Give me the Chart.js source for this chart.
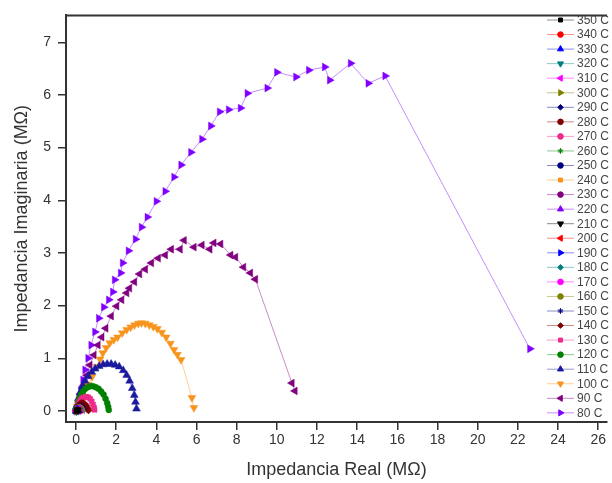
<!DOCTYPE html>
<html>
<head>
<meta charset="utf-8">
<script src="https://cdn.jsdelivr.net/npm/chart.js@4.4.0/dist/chart.umd.min.js"></script>
<style>
  body { margin: 0; background: #fff; }
  #wrap { width: 612px; height: 483px; }
</style>
</head>
<body>
<div id="wrap"><canvas id="nyquist" width="612" height="483"></canvas></div>
<script>
// series labels (legend order, top to bottom)
const temps = ['350 C', '340 C', '330 C', '320 C', '310 C', '300 C', '290 C', '280 C', '270 C',
  '260 C', '250 C', '240 C', '230 C', '220 C', '210 C', '200 C', '190 C', '180 C', '170 C',
  '160 C', '150 C', '140 C', '130 C', '120 C', '110 C', '100 C', '90 C', '80 C'];

const xTicks = [0, 2, 4, 6, 8, 10, 12, 14, 16, 18, 20, 22, 24, 26];
const yTicks = [0, 1, 2, 3, 4, 5, 6, 7];

// Z' (real) and Z'' (imaginary) in MOhm
const x80 = [0.02, 0.05, 0.1, 0.15, 0.25, 0.35, 0.45, 0.6, 0.75, 0.94, 1.13, 1.38, 1.63, 1.83, 1.92, 2.22, 2.32, 2.61, 2.96, 3.26, 3.55, 4.0, 4.44, 4.88, 5.23, 5.72, 6.27, 6.71, 7.15, 7.6, 8.19, 8.53, 9.52, 10.0, 10.95, 11.59, 12.38, 12.63, 13.67, 14.55, 15.39, 22.6];
const y80 = [0.0, 0.05, 0.12, 0.25, 0.4, 0.59, 0.78, 1.0, 1.25, 1.5, 1.76, 1.97, 2.11, 2.26, 2.49, 2.62, 2.81, 3.04, 3.26, 3.49, 3.68, 3.98, 4.17, 4.44, 4.67, 4.91, 5.16, 5.41, 5.68, 5.72, 5.75, 6.03, 6.13, 6.43, 6.34, 6.47, 6.53, 6.28, 6.6, 6.22, 6.36, 1.18];

const x90 = [0.02, 0.08, 0.15, 0.25, 0.4, 0.54, 0.69, 0.89, 1.09, 1.28, 1.48, 1.75, 2.02, 2.27, 2.52, 2.66, 2.91, 3.16, 3.45, 3.75, 4.09, 4.44, 4.74, 5.18, 5.38, 5.87, 6.27, 6.66, 6.86, 7.2, 7.7, 7.94, 8.34, 8.68, 8.93, 10.75, 10.9];
const y90 = [0.0, 0.08, 0.17, 0.32, 0.49, 0.68, 0.87, 1.06, 1.25, 1.4, 1.57, 1.8, 1.99, 2.11, 2.24, 2.33, 2.45, 2.6, 2.69, 2.81, 2.9, 2.96, 3.07, 3.07, 3.24, 3.11, 3.15, 3.07, 3.19, 3.17, 2.96, 2.92, 2.73, 2.62, 2.5, 0.53, 0.38];

const x100 = [0.02, 0.06, 0.12, 0.2, 0.3, 0.45, 0.6, 0.8, 1.04, 1.2, 1.33, 1.5, 1.68, 1.88, 2.07, 2.3, 2.52, 2.72, 2.91, 3.1, 3.26, 3.45, 3.65, 3.85, 4.05, 4.27, 4.49, 4.7, 4.88, 5.05, 5.23, 5.77, 5.87];
const y100 = [0.0, 0.08, 0.15, 0.24, 0.32, 0.42, 0.5, 0.65, 0.84, 0.98, 1.1, 1.2, 1.29, 1.35, 1.4, 1.48, 1.54, 1.59, 1.63, 1.66, 1.67, 1.66, 1.63, 1.6, 1.56, 1.49, 1.4, 1.28, 1.16, 1.07, 0.97, 0.25, 0.06];

const x110 = [0.02, 0.06, 0.12, 0.2, 0.3, 0.45, 0.6, 0.78, 0.95, 1.15, 1.35, 1.55, 1.75, 1.95, 2.15, 2.35, 2.52, 2.67, 2.8, 2.9, 2.96, 3.01];
const y110 = [0.0, 0.12, 0.24, 0.35, 0.46, 0.57, 0.66, 0.74, 0.8, 0.85, 0.88, 0.89, 0.89, 0.87, 0.84, 0.77, 0.68, 0.57, 0.43, 0.3, 0.17, 0.04];

const x120 = [0.02, 0.05, 0.1, 0.17, 0.25, 0.35, 0.46, 0.58, 0.7, 0.84, 0.98, 1.12, 1.25, 1.37, 1.47, 1.55, 1.6, 1.63];
const y120 = [0.0, 0.08, 0.16, 0.24, 0.31, 0.37, 0.42, 0.45, 0.47, 0.47, 0.45, 0.42, 0.37, 0.31, 0.23, 0.15, 0.08, 0.02];

const x130 = [0.02, 0.05, 0.1, 0.16, 0.23, 0.31, 0.4, 0.5, 0.6, 0.7, 0.78, 0.85, 0.9, 0.92];
const y130 = [0.0, 0.06, 0.12, 0.17, 0.21, 0.24, 0.26, 0.27, 0.26, 0.23, 0.18, 0.12, 0.06, 0.02];

const x140 = [0.02, 0.06, 0.11, 0.18, 0.26, 0.35, 0.44, 0.52, 0.58, 0.62];
const y140 = [0.0, 0.06, 0.1, 0.13, 0.15, 0.15, 0.13, 0.1, 0.05, 0.01];

const x150 = [0.02, 0.07, 0.13, 0.2, 0.27, 0.34, 0.39, 0.42];
const y150 = [0.0, 0.05, 0.08, 0.1, 0.1, 0.08, 0.05, 0.01];

const x160 = [0.02, 0.06, 0.11, 0.16, 0.21, 0.26, 0.3];
const y160 = [0.0, 0.04, 0.06, 0.07, 0.06, 0.04, 0.01];

const x170 = [0.02, 0.06, 0.1, 0.14, 0.18, 0.22];
const y170 = [0.0, 0.03, 0.05, 0.05, 0.03, 0.01];

const x180 = [0.02, 0.05, 0.09, 0.13, 0.17];
const y180 = [0.0, 0.03, 0.04, 0.03, 0.01];

// 190 C and above all collapse into the origin
const xHot = [0.02, 0.05, 0.09, 0.12];
const yHot = [0.0, 0.02, 0.02, 0.01];

const seriesX = { '80 C': x80, '90 C': x90, '100 C': x100, '110 C': x110, '120 C': x120, '130 C': x130,
  '140 C': x140, '150 C': x150, '160 C': x160, '170 C': x170, '180 C': x180 };
const seriesY = { '80 C': y80, '90 C': y90, '100 C': y100, '110 C': y110, '120 C': y120, '130 C': y130,
  '140 C': y140, '150 C': y150, '160 C': y160, '170 C': y170, '180 C': y180 };

// marker colour / shape / rotation per series (same order as temps)
const colors = ['#000000', '#ff0000', '#0000ff', '#008080', '#ff00ff', '#808000', '#000080', '#800000', '#ee2a8a',
  '#008000', '#000080', '#f7941d', '#800080', '#8000ff', '#000000', '#ff0000', '#0000ff', '#008080', '#ff00ff',
  '#808000', '#000080', '#800000', '#ee2a8a', '#008000', '#1a1a9e', '#f7941d', '#800080', '#8000ff'];
const shapes = ['rect', 'circle', 'triangle', 'triangle', 'triangle', 'triangle', 'rectRot', 'circle', 'circle',
  'star', 'circle', 'rect', 'circle', 'triangle', 'triangle', 'triangle', 'triangle', 'rectRot', 'circle',
  'circle', 'star', 'rectRot', 'rect', 'circle', 'triangle', 'triangle', 'triangle', 'triangle'];
const rotations = [0, 0, 0, 180, 270, 90, 0, 0, 0, 0, 0, 0, 0, 0, 180, 270, 90, 0, 0,
  0, 0, 0, 0, 0, 0, 180, 270, 90];

function fade(hex, a) {
  const n = parseInt(hex.slice(1), 16);
  return `rgba(${n >> 16}, ${(n >> 8) & 255}, ${n & 255}, ${a})`;
}

function sizeFor(shape) {
  if (shape === 'circle') return 3;
  if (shape === 'triangle') return 4.5;
  return 3.5;
}

const datasets = temps.map((t, i) => {
  const xs = seriesX[t] || xHot;
  const ys = seriesY[t] || yHot;
  return {
    label: t,
    data: xs.map((x, k) => ({ x: x, y: ys[k] })),
    showLine: true,
    borderColor: fade(colors[i], 0.45),
    borderWidth: 1,
    backgroundColor: colors[i],
    pointBorderColor: colors[i],
    pointBorderWidth: 0.5,
    pointStyle: shapes[i],
    pointRotation: rotations[i],
    pointRadius: sizeFor(shapes[i])
  };
});

// legend drawn in the top right corner, over the plot
const sideLegend = {
  id: 'sideLegend',
  afterDraw(chart) {
    const ctx = chart.ctx;
    ctx.save();
    ctx.font = '12px "Liberation Sans", Arial, sans-serif';
    ctx.textBaseline = 'middle';
    chart.data.datasets.forEach((ds, i) => {
      const y = 20 + i * 14.55;
      ctx.strokeStyle = ds.borderColor;
      ctx.lineWidth = 1;
      ctx.beginPath();
      ctx.moveTo(547, y);
      ctx.lineTo(574, y);
      ctx.stroke();
      ctx.fillStyle = ds.backgroundColor;
      ctx.strokeStyle = ds.pointBorderColor;
      Chart.helpers.drawPoint(ctx, {
        pointStyle: ds.pointStyle, rotation: ds.pointRotation,
        radius: ds.pointStyle === 'triangle' ? 3.5 : 2.8, borderWidth: 0.5
      }, 560.5, y);
      ctx.fillStyle = '#444';
      ctx.fillText(ds.label, 577, y + 0.5);
    });
    ctx.restore();
  }
};

const topFrame = {
  id: 'topFrame',
  afterDraw(chart) {
    const a = chart.chartArea;
    const ctx = chart.ctx;
    ctx.save();
    ctx.strokeStyle = '#333';
    ctx.lineWidth = 2;
    ctx.beginPath();
    ctx.moveTo(a.left - 1, a.top);
    ctx.lineTo(a.right, a.top);
    ctx.stroke();
    ctx.restore();
  }
};

const tickFont = { family: '"Liberation Sans", Arial, sans-serif', size: 14 };
const titleFont = { family: '"Liberation Sans", Arial, sans-serif', size: 18 };

new Chart(document.getElementById('nyquist'), {
  type: 'scatter',
  data: { datasets: datasets },
  options: {
    responsive: false,
    animation: false,
    layout: { padding: { top: 15, right: 0, left: 0, bottom: 0 } },
    plugins: { legend: { display: false }, tooltip: { enabled: false } },
    scales: {
      x: {
        type: 'linear',
        min: -0.5,
        max: 26.44,
        afterFit: s => { s.height = 61; },
        afterBuildTicks: s => { s.ticks = xTicks.map(v => ({ value: v })); },
        border: { display: true, color: '#333', width: 2 },
        grid: { drawOnChartArea: false, drawTicks: true, tickLength: 8, color: '#333', lineWidth: 1.5 },
        ticks: { font: tickFont, color: '#333', padding: 2, maxRotation: 0 },
        title: { display: true, text: 'Impedancia Real (MΩ)', font: titleFont, color: '#333', padding: { top: 2, bottom: 2 } }
      },
      y: {
        type: 'linear',
        min: -0.21,
        max: 7.51,
        afterFit: s => { s.width = 66; },
        afterBuildTicks: s => { s.ticks = yTicks.map(v => ({ value: v })); },
        border: { display: true, color: '#333', width: 2 },
        grid: { drawOnChartArea: false, drawTicks: true, tickLength: 8, color: '#333', lineWidth: 1.5 },
        ticks: { font: tickFont, color: '#333', padding: 7 },
        title: { display: true, text: 'Impedancia Imaginaria (MΩ)', font: titleFont, color: '#333', padding: { top: 11, bottom: 11 } }
      }
    }
  },
  plugins: [sideLegend, topFrame]
});
</script>
</body>
</html>
